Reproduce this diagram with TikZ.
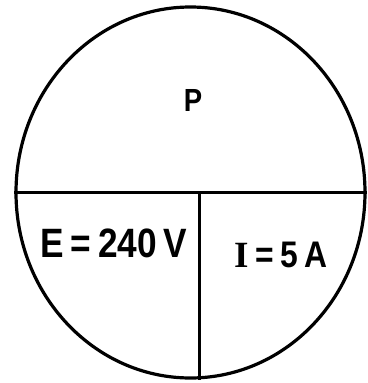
\documentclass[tikz,border=0pt]{standalone}
\usepackage{fontspec}
\setmainfont{Liberation Sans}
\newfontfamily\lblfont[FakeStretch=0.86]{Liberation Sans Bold}
\newfontfamily\serlblfont{Liberation Serif Bold}
\usetikzlibrary{positioning,shapes.geometric}
\tikzset{
  ringln/.style={line width=3.2pt, black},
  splitln/.style={line width=3pt, black},
  lbl/.style={font=\lblfont, inner sep=0pt, anchor=base},
}
\begin{document}
\begin{tikzpicture}[x=1pt, y=1pt]
    \useasboundingbox (0,0) rectangle (367,-383);
    % Outer circle
    \node[ringln, draw, ellipse, minimum width=349pt, minimum height=371pt, inner sep=0pt] (pie) at (190.5,-192.5) {};
    % Horizontal split: P above
    \draw[splitln] (pie.west) -- (pie.east);
    % Vertical split: E and I below
    \coordinate (mid) at (199,-192.5);
    \draw[splitln] (mid) -- (mid |- pie.south);
    % Labels
    \node[lbl, font=\lblfont\fontsize{32}{32}\selectfont] (pw) at (193,-111) {P};
    \node[lbl, font=\lblfont\fontsize{41}{41}\selectfont] (volt) at (114,-257) {E\,=\,240\,V};
    \node[lbl, font=\lblfont\fontsize{37}{37}\selectfont] (amp) at (281,-267) {{\serlblfont I}\,=\,5\,A};
  \end{tikzpicture}
\end{document}
